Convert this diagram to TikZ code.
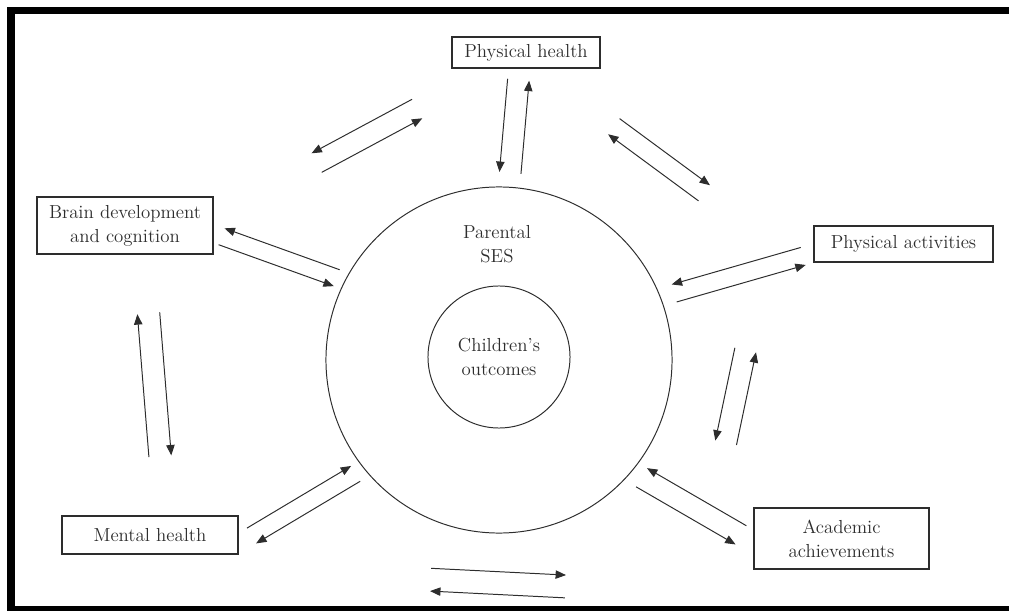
\documentclass[tikz,border=0pt]{standalone}
\usepackage{tikz}
\usetikzlibrary{arrows.meta}
\usetikzlibrary{calc}
\definecolor{ink}{RGB}{45,45,45}
\tikzset{
box/.style={draw=ink, line width=0.9pt, text=ink, align=center, inner sep=2pt},
ring/.style={draw=ink, line width=0.7pt, circle, text=ink, align=center},
arr/.style={draw=ink, line width=0.7pt, -{Triangle[length=2.6mm,width=2.1mm]}},
}
% pair of opposite arrows between two nodes: from, to, start, end, offset there, offset back
\newcommand{\twoway}[6]{%
  \draw[arr] ($(#1)!#3!(#2)!#5!90:(#2)$) -- ($(#1)!#4!(#2)!#5!90:(#2)$);
  \draw[arr] ($(#1)!#4!(#2)!#6!90:(#2)$) -- ($(#1)!#3!(#2)!#6!90:(#2)$);
}

\begin{document}
\begin{tikzpicture}[x=0.025cm, y=-0.025cm, font=\fontsize{13.4}{17}\selectfont]
    \useasboundingbox (0,0) rectangle (1009,611);
    % frame
    \fill[black] (7,7) rectangle (1009,14);
    \fill[black] (7,7) rectangle (15,611);
    \fill[black] (7,606) rectangle (1009,611);
    % centre
    \node[ring, minimum size=8.65cm] (ses) at (499,360) {};
    \node[ring, minimum size=3.55cm] (kids) at (499,357) {Children's\\outcomes};
    \node[text=ink, align=center] (seslabel) at (497,244) {Parental\\SES};
    % outcomes round it
    \node[box, minimum width=3.7cm, minimum height=0.775cm] (phys) at (526,52.5) {Physical health};
    \node[box, minimum width=4.4cm, minimum height=1.425cm] (brain) at (125,225.5) {Brain development\\and cognition};
    \node[box, minimum width=4.475cm, minimum height=0.9cm] (act) at (903.5,244) {Physical activities};
    \node[box, minimum width=4.4cm, minimum height=0.95cm] (mental) at (150,535) {Mental health};
    \node[box, minimum width=4.375cm, minimum height=1.525cm] (acad) at (841.5,538.5) {Academic\\achievements};
    % arrows
    \twoway{phys}{ses}{.09}{.393}{-4mm}{1.4mm}
    \twoway{brain.north east}{phys.south west}{.395}{.818}{-7.5mm}{-2.1mm}
    \twoway{phys.south east}{act.north west}{.17}{.595}{-7.25mm}{-12.1mm}
    \twoway{brain}{ses}{.238}{.546}{3.4mm}{7.75mm}
    \twoway{brain}{mental}{.288}{.75}{6.9mm}{1.3mm}
    \twoway{act}{ses}{.237}{.556}{-6.25mm}{-1.7mm}
    \twoway{act}{acad}{.453}{.768}{-35.9mm}{-30.5mm}
    \twoway{acad.north west}{ses}{-.011}{.38}{4.85mm}{10.25mm}
    \twoway{mental.north east}{ses}{.002}{.402}{-3.8mm}{-8.25mm}
    \twoway{mental}{acad.south}{.408}{.603}{-4.8mm}{-10.5mm}
\end{tikzpicture}
\end{document}
